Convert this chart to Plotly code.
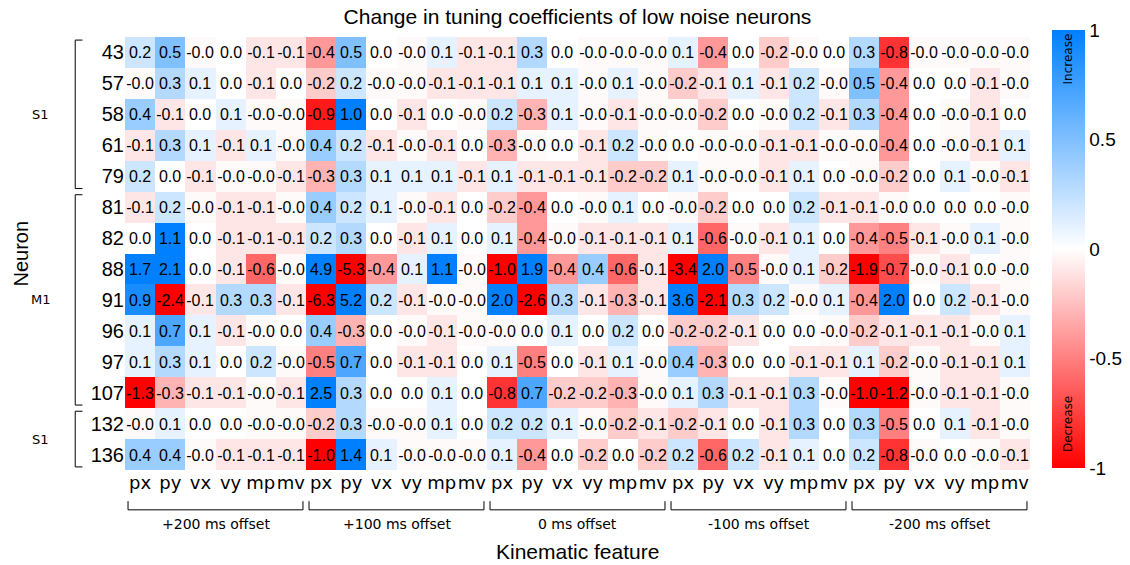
import plotly.graph_objects as go

neurons = ["43", "57", "58", "61", "79", "81", "82", "88", "91", "96", "97", "107", "132", "136"]
features = ["px", "py", "vx", "vy", "mp", "mv"]
offsets = ["+200 ms offset", "+100 ms offset", "0 ms offset", "-100 ms offset", "-200 ms offset"]
groups = [("S1", 0, 4), ("M1", 5, 11), ("S1", 12, 13)]

N = -0.02  # displayed as -0.0

off_p200 = [
    [0.2, 0.5, N, 0.0, -0.1, -0.1],
    [N, 0.3, 0.1, 0.0, -0.1, 0.0],
    [0.4, -0.1, 0.0, 0.1, N, N],
    [-0.1, 0.3, 0.1, -0.1, 0.1, N],
    [0.2, 0.0, -0.1, N, N, -0.1],
    [-0.1, 0.2, N, -0.1, -0.1, N],
    [0.0, 1.1, 0.0, -0.1, -0.1, -0.1],
    [1.7, 2.1, 0.0, -0.1, -0.6, N],
    [0.9, -2.4, -0.1, 0.3, 0.3, -0.1],
    [0.1, 0.7, 0.1, -0.1, N, 0.0],
    [0.1, 0.3, 0.1, 0.0, 0.2, N],
    [-1.3, -0.3, -0.1, -0.1, N, -0.1],
    [N, 0.1, 0.0, 0.0, N, N],
    [0.4, 0.4, N, -0.1, -0.1, -0.1],
]
off_p100 = [
    [-0.4, 0.5, 0.0, N, 0.1, -0.1],
    [-0.2, 0.2, N, N, -0.1, -0.1],
    [-0.9, 1.0, 0.0, -0.1, 0.0, N],
    [0.4, 0.2, -0.1, N, -0.1, 0.0],
    [-0.3, 0.3, 0.1, 0.1, 0.1, -0.1],
    [0.4, 0.2, 0.1, N, -0.1, 0.0],
    [0.2, 0.3, 0.0, -0.1, 0.1, 0.0],
    [4.9, -5.3, -0.4, 0.1, 1.1, N],
    [-6.3, 5.2, 0.2, -0.1, N, N],
    [0.4, -0.3, 0.0, N, -0.1, N],
    [-0.5, 0.7, 0.0, -0.1, -0.1, 0.0],
    [2.5, 0.3, 0.0, 0.0, 0.1, 0.0],
    [-0.2, 0.3, N, N, 0.1, 0.0],
    [-1.0, 1.4, 0.1, N, N, N],
]
off_0 = [
    [-0.1, 0.3, 0.0, N, N, N],
    [-0.1, 0.1, 0.1, N, 0.1, N],
    [0.2, -0.3, 0.1, N, -0.1, N],
    [-0.3, N, 0.0, -0.1, 0.2, N],
    [0.1, -0.1, -0.1, -0.1, -0.2, -0.2],
    [-0.2, -0.4, 0.0, N, 0.1, 0.0],
    [0.1, -0.4, N, -0.1, -0.1, -0.1],
    [-1.0, 1.9, -0.4, 0.4, -0.6, -0.1],
    [2.0, -2.6, 0.3, -0.1, -0.3, -0.1],
    [N, 0.0, 0.1, 0.0, 0.2, 0.0],
    [0.1, -0.5, 0.0, -0.1, 0.1, N],
    [-0.8, 0.7, -0.2, -0.2, -0.3, N],
    [0.2, 0.2, 0.1, N, -0.2, -0.1],
    [0.1, -0.4, 0.0, -0.2, 0.0, -0.2],
]
off_m100 = [
    [0.1, -0.4, 0.0, -0.2, N, 0.0],
    [-0.2, -0.1, 0.1, -0.1, 0.2, N],
    [N, -0.2, 0.0, N, 0.2, -0.1],
    [0.0, N, N, -0.1, -0.1, N],
    [0.1, N, N, -0.1, 0.1, 0.0],
    [N, -0.2, 0.0, 0.0, 0.2, -0.1],
    [0.1, -0.6, N, -0.1, 0.1, 0.0],
    [-3.4, 2.0, -0.5, N, 0.1, -0.2],
    [3.6, -2.1, 0.3, 0.2, N, 0.1],
    [-0.2, -0.2, -0.1, 0.0, 0.0, N],
    [0.4, -0.3, 0.0, 0.0, -0.1, -0.1],
    [0.1, 0.3, -0.1, -0.1, 0.3, N],
    [-0.2, -0.1, 0.0, -0.1, 0.3, 0.0],
    [0.2, -0.6, 0.2, -0.1, 0.1, 0.0],
]
off_m200 = [
    [0.3, -0.8, N, N, N, N],
    [0.5, -0.4, 0.0, 0.0, -0.1, N],
    [0.3, -0.4, 0.0, N, -0.1, 0.0],
    [N, -0.4, 0.0, N, -0.1, 0.1],
    [N, -0.2, 0.0, 0.1, N, -0.1],
    [-0.1, N, 0.0, 0.0, 0.0, N],
    [-0.4, -0.5, -0.1, N, 0.1, N],
    [-1.9, -0.7, N, -0.1, 0.0, N],
    [-0.4, 2.0, 0.0, 0.2, -0.1, N],
    [-0.2, -0.1, -0.1, -0.1, N, 0.1],
    [0.1, -0.2, N, -0.1, -0.1, 0.1],
    [-1.0, -1.2, N, -0.1, -0.1, N],
    [0.3, -0.5, 0.0, 0.1, -0.1, N],
    [0.2, -0.8, N, 0.0, N, -0.1],
]

blocks = [off_p200, off_p100, off_0, off_m100, off_m200]
z = [sum((b[r] for b in blocks), []) for r in range(len(neurons))]
text = [[f"{v:.1f}" for v in row] for row in z]
ncol = len(features) * len(offsets)
xs = list(range(ncol))
ys = list(range(len(neurons)))

FONT = "Liberation Sans, Arial, sans-serif"
DV = "DejaVu Sans, sans-serif"

fig = go.Figure(go.Heatmap(
    z=z, x=xs, y=ys, text=text, texttemplate="%{text}",
    textfont=dict(size=16, color="black", family=FONT),
    zmin=-1, zmax=1,
    colorscale=[[0, "rgb(255,0,0)"], [0.5, "rgb(255,255,255)"], [1, "rgb(0,128,255)"]],
    colorbar=dict(
        xref="container", x=1052 / 1130, xanchor="left", xpad=0, ypad=0,
        thickness=33, lenmode="pixels", len=438,
        y=0.510, yanchor="middle", outlinewidth=0,
        tickvals=[-1, -0.5, 0, 0.5, 1], ticktext=["-1", "-0.5", "0", "0.5", "1"],
        tickfont=dict(size=19, family=FONT, color="black"), ticks="",
    ),
    hoverinfo="skip",
))

shapes = []
annotations = []

# bottom brackets and offset labels
for g, lab in enumerate(offsets):
    x0 = g * 6 - 0.4
    x1 = g * 6 + 5.4
    yb = -0.092
    yt = -0.072
    shapes.append(dict(type="line", xref="x", yref="paper", x0=x0, x1=x1, y0=yb, y1=yb,
                       line=dict(color="black", width=1)))
    for xx in (x0, x1):
        shapes.append(dict(type="line", xref="x", yref="paper", x0=xx, x1=xx, y0=yb, y1=yt,
                           line=dict(color="black", width=1)))
    annotations.append(dict(text=lab, xref="x", yref="paper", x=g * 6 + 2.5, y=-0.124,
                            showarrow=False, yanchor="middle", xanchor="center",
                            font=dict(size=14, family=DV, color="black")))

# left brackets and group labels
xl = -0.055
xr = -0.047
for lab, r0, r1 in groups:
    y0 = r0 - 0.4
    y1 = r1 + 0.4
    shapes.append(dict(type="line", xref="paper", yref="y", x0=xl, x1=xl, y0=y0, y1=y1,
                       line=dict(color="black", width=1)))
    for yy in (y0, y1):
        shapes.append(dict(type="line", xref="paper", yref="y", x0=xl, x1=xr, y0=yy, y1=yy,
                           line=dict(color="black", width=1)))
    annotations.append(dict(text=lab, xref="paper", yref="y", x=-0.093, y=(r0 + r1) / 2,
                            showarrow=False, xanchor="center",
                            font=dict(size=13, family=DV, color="black")))

annotations += [
    dict(text="Neuron", xref="paper", yref="paper", x=-0.116, y=0.5, textangle=-90,
         xanchor="center", yanchor="middle",
         showarrow=False, font=dict(size=20, family=FONT, color="black")),
    dict(text="Kinematic feature", xref="paper", yref="paper", x=0.5, y=-0.188,
         xanchor="center", yanchor="middle", showarrow=False,
         font=dict(size=21, family=FONT, color="black")),
    dict(text="Increase", xref="paper", yref="paper", x=(1068 - 125) / 905, y=0.948,
         textangle=-90, xanchor="center", yanchor="middle",
         showarrow=False, font=dict(size=12, family=DV, color="black")),
    dict(text="Decrease", xref="paper", yref="paper", x=(1068 - 125) / 905, y=0.106,
         textangle=-90, xanchor="center", yanchor="middle",
         showarrow=False, font=dict(size=12, family=DV, color="black")),
]

fig.update_layout(
    width=1130, height=565,
    margin=dict(l=125, r=100, t=37, b=95),
    paper_bgcolor="white", plot_bgcolor="white",
    title=dict(text="Change in tuning coefficients of low noise neurons", x=0.5, xref="paper",
               y=0.97, yanchor="middle",
               font=dict(size=21, family=FONT, color="black")),
    xaxis=dict(tickmode="array", tickvals=xs, ticktext=features * len(offsets),
               tickangle=0,
               tickfont=dict(size=18, family=DV, color="black"), showgrid=False,
               zeroline=False, ticks="", ticklen=0, range=[-0.5, ncol - 0.5]),
    yaxis=dict(tickmode="array", tickvals=ys, ticktext=neurons, autorange="reversed",
               tickfont=dict(size=20, family=FONT, color="black"), showgrid=False,
               zeroline=False, ticks="", ticklen=0),
    shapes=shapes, annotations=annotations,
)

fig.write_html("out.html")
